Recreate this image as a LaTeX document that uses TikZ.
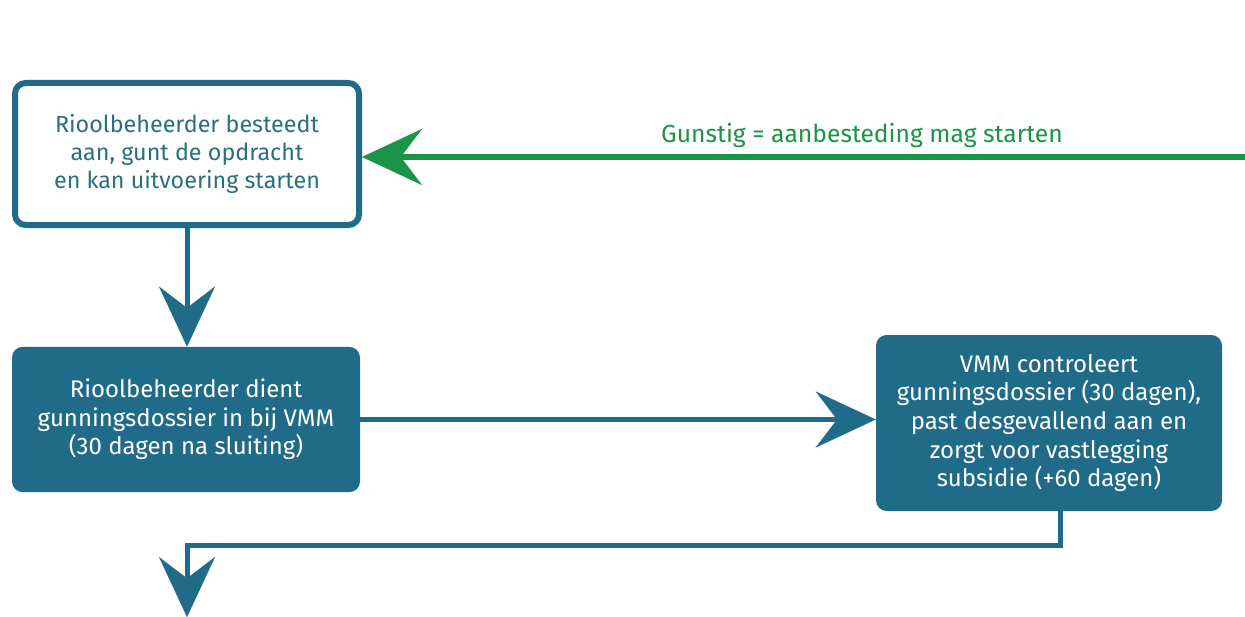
\documentclass[tikz,border=0pt]{standalone}
\usepackage{fontspec}
\setmainfont{Fira Sans}
\usetikzlibrary{arrows.meta}
\definecolor{teal1}{HTML}{1F6B88}
\definecolor{tealtxt}{HTML}{2A6F80}
\definecolor{green1}{HTML}{1B9448}
\begin{document}
\begin{tikzpicture}[x=0.75pt,y=-0.75pt,
  tip/.style={-{Stealth[length=45pt,width=42pt,inset=16pt,line width=0.1pt]}},
  conn/.style={draw=teal1,line width=3.75pt,tip},
  gconn/.style={draw=green1,line width=4.5pt,tip},
  box/.style={rectangle,rounded corners=8pt,align=center,inner sep=0pt,font=\fontsize{18}{21.5}\selectfont},
  filledbox/.style={box,fill=teal1,text=white},
  whitebox/.style={box,draw=teal1,line width=4.5pt,fill=white,text=tealtxt,font=\fontsize{17.5}{21}\selectfont}]
\useasboundingbox (0,0) rectangle (1245,617);
\fill[white] (0,0) rectangle (1245,617);
\node[whitebox,minimum width=258pt,minimum height=106.5pt] (b1) at (187,154)
  {Rioolbeheerder besteedt\\aan, gunt de opdracht\\en kan uitvoering starten};
\node[filledbox,minimum width=261pt,minimum height=109pt] (b2) at (186,419.5)
  {Rioolbeheerder dient\\gunningsdossier in bij VMM\\(30 dagen na sluiting)};
\node[filledbox,minimum width=259.5pt,minimum height=132pt] (b3) at (1049,423)
  {VMM controleert\\gunningsdossier (30 dagen),\\past desgevallend aan en\\zorgt voor vastlegging\\subsidie (+60 dagen)};
\coordinate (gs) at (1245,157);
\coordinate (b1e) at (b1.east |- gs);
\draw[gconn] (gs) -- (b1e);
\node[text=green1,font=\fontsize{18.5}{22}\selectfont,anchor=base] (gl) at (862,142) {Gunstig = aanbesteding mag starten};
\coordinate (b2t) at (b1.south |- b2.north);
\draw[conn] (b1.south) -- (b2t);
\coordinate (b3w) at (b3.west |- b2.east);
\draw[conn] (b2.east) -- (b3w);
\coordinate (b3s) at (1060,511);
\coordinate (k1) at (1060,545);
\coordinate (k2) at (187,545);
\coordinate (end) at (187,617);
\draw[conn] (b3s) -- (k1) -- (k2) -- (end);
\end{tikzpicture}
\end{document}
